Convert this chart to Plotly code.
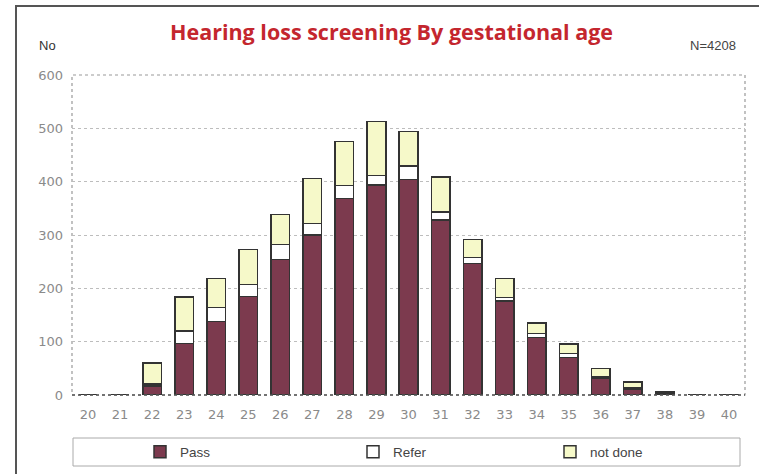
import plotly.graph_objects as go

weeks = [str(w) for w in range(20, 41)]
passed = [0, 0, 17, 97, 138, 185, 254, 300, 368, 394, 404, 328, 247, 176, 108, 70, 32, 11, 4, 0, 1]
refer = [0, 0, 4, 23, 26, 22, 28, 22, 25, 18, 25, 15, 11, 7, 7, 8, 3, 3, 1, 0, 0]
not_done = [0, 0, 39, 64, 54, 66, 56, 84, 82, 101, 65, 66, 34, 35, 20, 18, 15, 10, 1, 0, 0]

W, H = 759, 474
L, R, T, B = 72, 14, 75, 79
pw, ph = W - L - R, H - T - B


def px(x):
    return (x - L) / pw


def py(y):
    return (H - B - y) / ph


outline = dict(color='#333333', width=1.5)
fig = go.Figure()
fig.add_trace(go.Bar(x=weeks, y=passed, name='Pass', legend='legend',
                     marker=dict(color='#7c3a4e', line=outline)))
fig.add_trace(go.Bar(x=weeks, y=refer, name='Refer', legend='legend2',
                     marker=dict(color='#ffffff', line=outline)))
fig.add_trace(go.Bar(x=weeks, y=not_done, name='not done', legend='legend3',
                     marker=dict(color='#f6f9c9', line=outline)))

grey = '#8a8a8a'
leg_font = dict(family='Liberation Sans', size=13.5, color='#444')


def leg(x):
    return dict(x=px(x), y=py(452), xanchor='left', yanchor='middle', font=leg_font,
                bgcolor='rgba(0,0,0,0)', itemwidth=30, tracegroupgap=0)


fig.update_layout(
    barmode='stack', bargap=0.42,
    width=W, height=H,
    margin=dict(l=L, r=R, t=T, b=B, autoexpand=False),
    paper_bgcolor='white', plot_bgcolor='white',
    font=dict(family='DejaVu Sans', size=13, color=grey),
    showlegend=True,
    legend=leg(140), legend2=leg(353), legend3=leg(550),
    xaxis=dict(showgrid=False, showline=False, ticks='', ticklabelstandoff=10,
               tickfont=dict(size=13, color=grey)),
    yaxis=dict(range=[0, 600], dtick=100, showgrid=True, gridcolor='#bdbdbd', griddash='dot',
               gridwidth=1, zeroline=False, showline=False, ticks='', ticklabelstandoff=8,
               tickfont=dict(size=13, color=grey)),
    shapes=[
        dict(type='rect', xref='paper', yref='paper', x0=0, x1=1, y0=0, y1=1,
             line=dict(color='#999999', width=1.2, dash='dot'), layer='below'),
        dict(type='line', xref='paper', yref='paper', x0=0, x1=1, y0=0, y1=0,
             line=dict(color='#555555', width=1.5, dash='dot')),
        dict(type='rect', xref='paper', yref='paper', x0=px(73), x1=px(740),
             y0=py(466), y1=py(438), line=dict(color='#aaaaaa', width=1)),
        dict(type='rect', xref='paper', yref='paper', x0=px(16), x1=px(775),
             y0=py(490), y1=py(6), line=dict(color='#555555', width=2)),
    ],
    annotations=[
        dict(text='<b>Hearing loss screening By gestational age</b>', xref='paper', yref='paper',
             x=px(391), y=py(31), xanchor='center', yanchor='middle', showarrow=False,
             font=dict(family='Open Sans', size=21.5, color='#c4262e')),
        dict(text='No', xref='paper', yref='paper', x=px(37), y=py(45),
             xanchor='left', yanchor='middle', showarrow=False,
             font=dict(family='Liberation Sans', size=13, color='#333')),
        dict(text='N=4208', xref='paper', yref='paper', x=px(738), y=py(45),
             xanchor='right', yanchor='middle', showarrow=False,
             font=dict(family='Liberation Sans', size=13, color='#444')),
    ],
)

fig.write_html("out.html", config={'displayModeBar': False},
               post_script="document.body.style.margin='0';")
